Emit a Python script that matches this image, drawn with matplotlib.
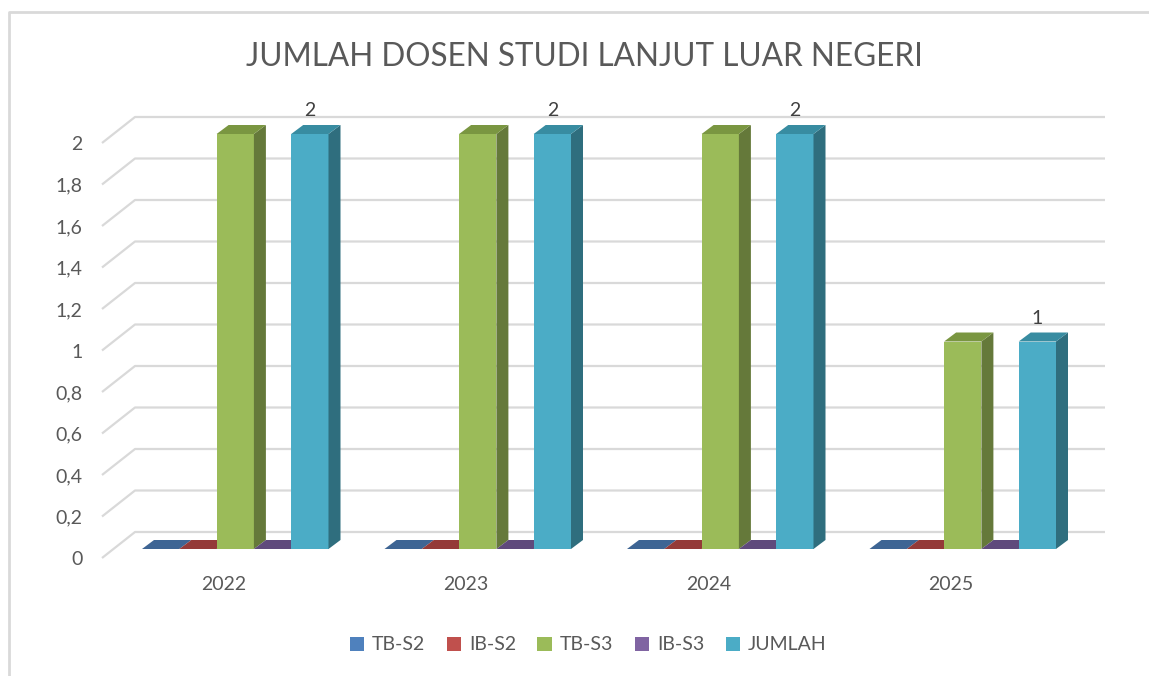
import matplotlib
matplotlib.use("Agg")
import matplotlib.pyplot as plt
from matplotlib.patches import Polygon, Patch
from matplotlib.lines import Line2D

plt.rcParams['font.family'] = ['Lato', 'DejaVu Sans']

# data
years = ["2022", "2023", "2024", "2025"]
series_names = ["TB-S2", "IB-S2", "TB-S3", "IB-S3", "JUMLAH"]
tb_s2 = [0, 0, 0, 0]
ib_s2 = [0, 0, 0, 0]
tb_s3 = [2, 2, 2, 1]
ib_s3 = [0, 0, 0, 0]
jumlah = [2, 2, 2, 1]
yticks = [0, 0.2, 0.4, 0.6, 0.8, 1, 1.2, 1.4, 1.6, 1.8, 2]

front_cols = ["#4F81BD", "#C0504D", "#9BBB59", "#8064A2", "#4BACC6"]
side_cols = ["#34557C", "#7E3432", "#65793A", "#54416A", "#2F6E7E"]
top_cols = ["#3E6594", "#943A38", "#7A9641", "#5F4A7C", "#388CA1"]
txt_col = "#595959"
grid_col = "#D9D9D9"

W, H = 1149, 676
fig = plt.figure(figsize=(W / 100, H / 100), dpi=100)

# plot area in pixels (front plane left/bottom, back wall right)
px_left, px_right = 102, 1105
px_bottom = 558
px_per_x = 242.5
px_per_y = 207.5
ytop = 2.25
ax_h = ytop * px_per_y
ax = fig.add_axes([px_left / W, (H - px_bottom) / H, (px_right - px_left) / W, ax_h / H])
xmin = -0.5
xmax = xmin + (px_right - px_left) / px_per_x
ax.set_xlim(xmin, xmax)
ax.set_ylim(0, ytop)

# depth offsets (data units)
ddx, ddy = 12 / px_per_x, 9 / px_per_y      # bar depth
wdx, wdy = 33 / px_per_x, 26 / px_per_y     # wall depth

for s in ax.spines.values():
    s.set_visible(False)

# gridlines: side wall diagonal + back wall horizontal
for v in yticks:
    ax.plot([xmin, xmin + wdx, xmax], [v, v + wdy, v + wdy], color=grid_col,
            lw=1.6, solid_capstyle='butt', zorder=1, clip_on=False)

all_series = [tb_s2, ib_s2, tb_s3, ib_s3, jumlah]
bw = 37.3 / px_per_x
n = len(all_series)
for c in range(len(years)):
    for i, vals in enumerate(all_series):
        v = vals[c]
        x0 = c - n / 2 * bw + i * bw + ddx
        x1 = x0 + bw
        z = 2 + c * 10 + i
        # front face
        if v > 0:
            ax.bar(x0, v, width=bw, bottom=ddy, align='edge', color=front_cols[i],
                   edgecolor='none', zorder=z)
            side = Polygon([(x1, ddy), (x1 + ddx, 2 * ddy), (x1 + ddx, v + 2 * ddy), (x1, v + ddy)],
                           closed=True, facecolor=side_cols[i], edgecolor='none', zorder=z)
            ax.add_patch(side)
        top = Polygon([(x0, v + ddy), (x1, v + ddy), (x1 + ddx, v + 2 * ddy), (x0 + ddx, v + 2 * ddy)],
                      closed=True, facecolor=top_cols[i], edgecolor='none', zorder=z + 0.5)
        ax.add_patch(top)

# data labels on JUMLAH
for c, v in enumerate(jumlah):
    xc = c - n / 2 * bw + 4.5 * bw + ddx
    ax.annotate(str(v), (xc, v + 2 * ddy), xytext=(0, 4), textcoords='offset points',
                ha='center', va='bottom', fontsize=14, color="#404040", zorder=100)

ax.set_yticks(yticks)
ax.set_yticklabels([("%g" % t).replace(".", ",") for t in yticks])
ax.set_xticks(range(len(years)))
ax.set_xticklabels(years)
ax.tick_params(axis='y', length=0, pad=14, labelsize=14, labelcolor=txt_col)
ax.tick_params(axis='x', length=0, pad=13, labelsize=14, labelcolor=txt_col)

fig.text(584.5 / W, 1 - 57 / H, "JUMLAH DOSEN STUDI LANJUT LUAR NEGERI", ha='center',
         va='center', fontsize=22.7, color=txt_col)

handles = [Patch(facecolor=col, edgecolor='none') for col in front_cols]
fig.legend(handles, series_names, loc='center', bbox_to_anchor=(588 / W, 1 - 645 / H), ncol=5,
           frameon=False, fontsize=14, labelcolor=txt_col, handlelength=0.75, handleheight=0.75,
           handletextpad=0.4, columnspacing=1.1)

# chart border (only top and left edges visible in the crop)
fig.add_artist(Line2D([9 / W, 9 / W, 1], [0, 1 - 12 / H, 1 - 12 / H], transform=fig.transFigure,
                      color=grid_col, lw=2))

fig.savefig("out.png", dpi=100, facecolor='white')
